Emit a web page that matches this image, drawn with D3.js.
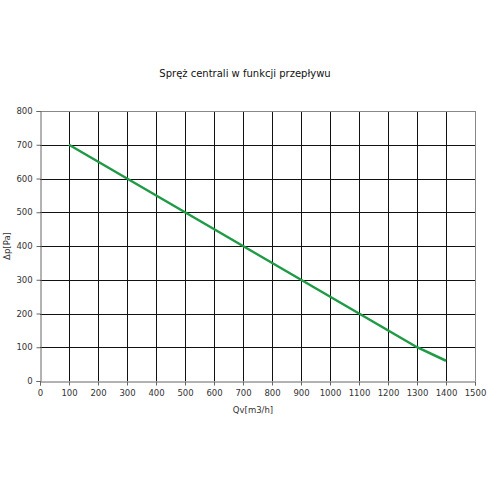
<!DOCTYPE html>
<html><head><meta charset="utf-8">
<script src="https://cdn.jsdelivr.net/npm/d3@7"></script>
<style>body{margin:0;background:#fff}</style>
</head><body>
<svg id="c" width="500" height="500"></svg>
<script>
const flow = [100, 300, 500, 700, 900, 1100, 1300, 1400];
const pressure = [700, 600, 500, 400, 300, 200, 100, 60];
const xTicks = d3.range(0, 1501, 100);
const yTicks = d3.range(0, 801, 100);
const title = "Spręż centrali w funkcji przepływu";
const xLabel = "Qv[m3/h]";
const yLabel = "Δp[Pa]";

const svg = d3.select("#c");
const m = {l: 40, r: 25, t: 111, b: 119};
const W = 500, H = 500;
const x = d3.scaleLinear().domain([0, 1500]).range([m.l, W - m.r]);
const y = d3.scaleLinear().domain([0, 800]).range([H - m.b, m.t]);
const font = "DejaVu Sans, Verdana, sans-serif";

svg.append("rect").attr("width", W).attr("height", H).attr("fill", "#fff");

// grid
const g = svg.append("g");
g.selectAll(".vx").data(xTicks.slice(1)).join("line")
  .attr("x1", d => Math.round(x(d)) + 0.5).attr("x2", d => Math.round(x(d)) + 0.5)
  .attr("y1", y(0)).attr("y2", y(800))
  .attr("stroke", d => d === 1500 ? "#888" : "#111").attr("stroke-width", 1);
g.selectAll(".hy").data(yTicks.slice(1)).join("line")
  .attr("y1", d => Math.round(y(d)) + 0.5).attr("y2", d => Math.round(y(d)) + 0.5)
  .attr("x1", x(0)).attr("x2", x(1500))
  .attr("stroke", d => d === 800 ? "#888" : "#111").attr("stroke-width", 1);

// axes
const xa = svg.append("g").attr("transform", `translate(0,${Math.round(y(0)) + 0.5})`)
  .call(d3.axisBottom(x).tickValues(xTicks).tickSize(4).tickFormat(d3.format("d")));
const ya = svg.append("g").attr("transform", `translate(${Math.round(x(0)) + 0.5},0)`)
  .call(d3.axisLeft(y).tickValues(yTicks).tickSize(4).tickFormat(d3.format("d")));
[xa, ya].forEach(a => {
  a.selectAll("path,line").attr("stroke", "#666");
  a.selectAll("text").attr("font-family", font).attr("font-size", 8.5).attr("fill", "#333");
});
xa.selectAll("text").attr("dy", "0.9em");
ya.selectAll("text").attr("dx", "-0.1em");

// line
const pts = flow.map((f, i) => [f, pressure[i]]);
svg.append("path").datum(pts)
  .attr("d", d3.line().x(d => x(d[0])).y(d => y(d[1])))
  .attr("fill", "none").attr("stroke", "#1f9a45").attr("stroke-width", 2.5);

// text
svg.append("text").attr("x", 245).attr("y", 77).attr("text-anchor", "middle")
  .attr("font-family", font).attr("font-size", 10).attr("fill", "#111").text(title);
svg.append("text").attr("x", 253).attr("y", 413).attr("text-anchor", "middle")
  .attr("font-family", font).attr("font-size", 8.5).attr("fill", "#333").text(xLabel);
svg.append("text").attr("transform", "translate(10,246) rotate(-90)").attr("text-anchor", "middle")
  .attr("font-family", font).attr("font-size", 8.5).attr("fill", "#333").text(yLabel);
</script>
</body></html>
